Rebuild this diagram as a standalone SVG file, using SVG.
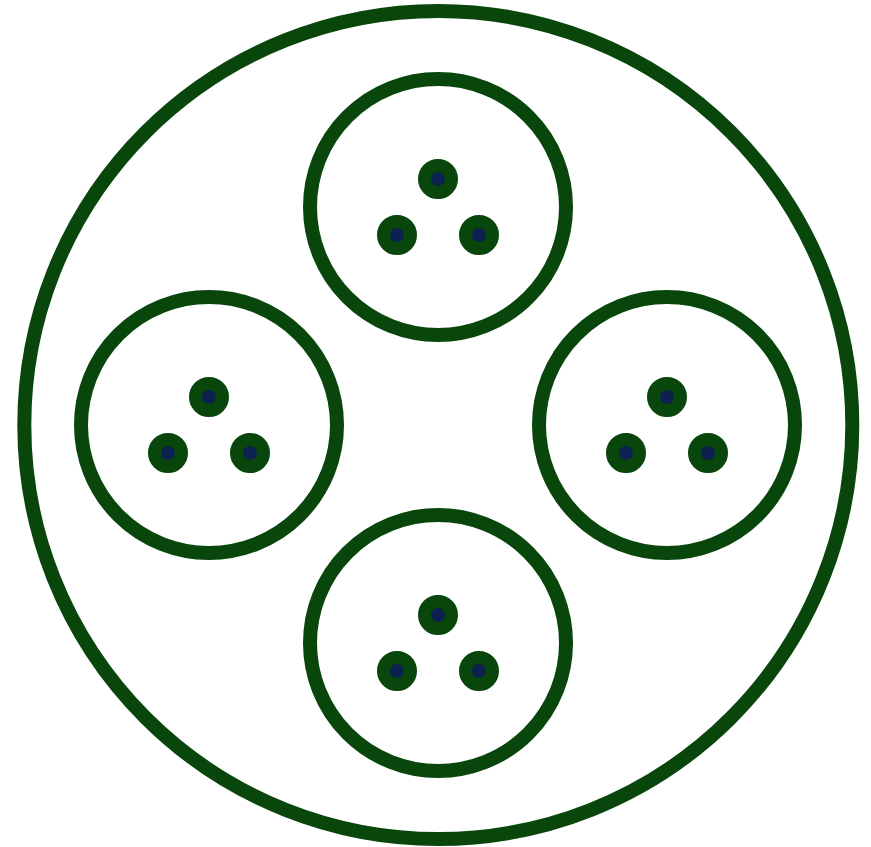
<svg xmlns="http://www.w3.org/2000/svg" xmlns:xlink="http://www.w3.org/1999/xlink" width="871" height="847" viewBox="0 0 871 847">
<style>
.ring{fill:none;stroke:#08460b;stroke-width:14}
.dot{fill:#0b2150;stroke:#08460b;stroke-width:13}
</style>
<defs>
<g id="cluster">
<circle class="ring" cx="0" cy="0" r="128"/>
<circle class="dot" cx="0" cy="-28" r="13.5"/>
<circle class="dot" cx="-41" cy="28" r="13.5"/>
<circle class="dot" cx="41" cy="28" r="13.5"/>
</g>
</defs>
<rect width="871" height="847" fill="#ffffff"/>
<g id="outer"><circle class="ring" cx="438.3" cy="425" r="414"/></g>
<g id="top"><use xlink:href="#cluster" href="#cluster" transform="translate(438,207)"/></g>
<g id="left"><use xlink:href="#cluster" href="#cluster" transform="translate(209,425)"/></g>
<g id="right"><use xlink:href="#cluster" href="#cluster" transform="translate(667,425)"/></g>
<g id="bottom"><use xlink:href="#cluster" href="#cluster" transform="translate(438,643)"/></g>
<g id="connectors"></g>
</svg>
